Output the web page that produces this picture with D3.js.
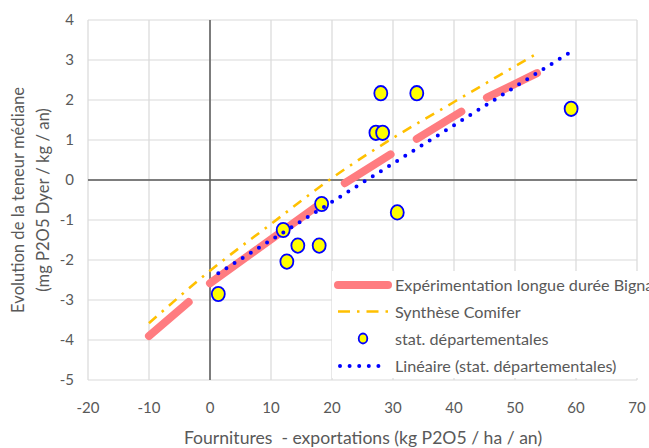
<!DOCTYPE html>
<html>
<head>
<meta charset="utf-8">
<script src="https://cdn.jsdelivr.net/npm/d3@7"></script>
<style>
  body { margin: 0; background: #fff; }
  text { font-family: Lato, "Open Sans", sans-serif; fill: #595959; white-space: pre; }
</style>
</head>
<body>
<svg id="chart" width="649" height="448"></svg>
<script>
// tick values
const xTicks = [-20, -10, 0, 10, 20, 30, 40, 50, 60, 70];
const yTicks = [-5, -4, -3, -2, -1, 0, 1, 2, 3, 4];

// Expérimentation longue durée Bignan : segments
const bignanSegments = [
  [[-10, -3.9], [-3.5, -3.05]],
  [[0, -2.58], [18.6, -0.54]],
  [[22.1, -0.08], [29.6, 0.64]],
  [[33.9, 1.03], [41.2, 1.71]],
  [[45.4, 2.06], [53.6, 2.67]]
];

// Synthèse Comifer
const comiferX = [-10, 0, 10, 20, 30, 40, 54];
const comiferY = [-3.58, -2.27, -1.1, 0.05, 1.05, 1.95, 3.2];

// stat. départementales
const statX = [1.36, 12.0, 12.6, 14.4, 17.9, 18.3, 28.0, 33.9, 27.2, 28.3, 30.7, 59.2];
const statY = [-2.85, -1.25, -2.04, -1.64, -1.64, -0.6, 2.17, 2.17, 1.18, 1.18, -0.81, 1.78];

const legendLabels = [
  "Expérimentation longue durée Bignan",
  "Synthèse Comifer",
  "stat. départementales",
  "Linéaire (stat. départementales)"
];

const RED = "#ff7c80", ORANGE = "#ffc000", BLUE = "#0000ff", YELLOW = "#ffff00";

const svg = d3.select("#chart");
const x = d3.scaleLinear().domain([-20, 70]).range([88, 637]);
const y = d3.scaleLinear().domain([-5, 4]).range([380, 20]);

// grid
const grid = svg.append("g");
grid.selectAll(".vg").data(xTicks).join("line")
  .attr("x1", d => x(d)).attr("x2", d => x(d))
  .attr("y1", y(4)).attr("y2", y(-5))
  .attr("stroke", "#d9d9d9").attr("stroke-width", 1.2);
grid.selectAll(".hg").data(yTicks).join("line")
  .attr("x1", x(-20)).attr("x2", x(70))
  .attr("y1", d => y(d)).attr("y2", d => y(d))
  .attr("stroke", "#d9d9d9").attr("stroke-width", 1.2);

// zero axes
svg.append("line").attr("x1", x(0)).attr("x2", x(0)).attr("y1", y(4)).attr("y2", y(-5))
  .attr("stroke", "#595959").attr("stroke-width", 1.5);
svg.append("line").attr("x1", x(-20)).attr("x2", x(70)).attr("y1", y(0)).attr("y2", y(0))
  .attr("stroke", "#595959").attr("stroke-width", 1.5);

// tick labels
svg.append("g").selectAll("text").data(xTicks).join("text")
  .attr("x", d => x(d)).attr("y", 413)
  .attr("text-anchor", "middle").attr("font-size", 15)
  .text(d => d);
svg.append("g").selectAll("text").data(yTicks).join("text")
  .attr("x", 74).attr("y", d => y(d) + 5)
  .attr("text-anchor", "end").attr("font-size", 15)
  .text(d => d);

// axis titles
svg.append("text").attr("x", 363).attr("y", 444)
  .attr("text-anchor", "middle").attr("font-size", 17.6)
  .text("Fournitures  - exportations (kg P2O5 / ha / an)");
const yt = svg.append("text").attr("transform", `translate(0,${y(-0.5)}) rotate(-90)`)
  .attr("text-anchor", "middle").attr("font-size", 16.6);
yt.append("tspan").attr("x", 0).attr("y", 23.5).text("Evolution de la teneur médiane");
yt.append("tspan").attr("x", 0).attr("y", 48.5).text("(mg P2O5 Dyer / kg / an)");

const line = d3.line().x(d => x(d[0])).y(d => y(d[1]));

// Bignan
svg.append("g").selectAll("path").data(bignanSegments).join("path")
  .attr("d", line).attr("fill", "none")
  .attr("stroke", RED).attr("stroke-width", 8).attr("stroke-linecap", "round");

// Comifer
svg.append("path")
  .attr("d", d3.line().curve(d3.curveMonotoneX).x(d => x(d[0])).y(d => y(d[1]))(d3.zip(comiferX, comiferY)))
  .attr("fill", "none").attr("stroke", ORANGE).attr("stroke-width", 2.6)
  .attr("stroke-dasharray", "10 7 2.5 7");

// stat. départementales
const pts = d3.zip(statX, statY);
svg.append("g").selectAll("ellipse").data(pts).join("ellipse")
  .attr("cx", d => x(d[0])).attr("cy", d => y(d[1]))
  .attr("rx", 6.5).attr("ry", 7.2)
  .attr("fill", YELLOW).attr("stroke", BLUE).attr("stroke-width", 1.8);

// linear trend of the stat points (least squares)
const mx = d3.mean(statX), my = d3.mean(statY);
const slope = d3.sum(pts, d => (d[0] - mx) * (d[1] - my)) / d3.sum(statX, v => (v - mx) ** 2);
const icpt = my - slope * mx;
const xr = d3.extent(statX);
svg.append("path")
  .attr("d", line(xr.map(v => [v, icpt + slope * v])))
  .attr("fill", "none").attr("stroke", BLUE).attr("stroke-width", 4)
  .attr("stroke-linecap", "round").attr("stroke-dasharray", "0 9.6");

// legend
const lg = svg.append("g");
lg.append("rect").attr("x", 332).attr("y", 271).attr("width", 317).attr("height", 107).attr("fill", "#fff");
const ly = [285, 311.5, 338.5, 366];
const lx0 = 338, lx1 = 388;
lg.append("line").attr("x1", lx0).attr("x2", lx1).attr("y1", ly[0]).attr("y2", ly[0])
  .attr("stroke", RED).attr("stroke-width", 8).attr("stroke-linecap", "round");
lg.append("line").attr("x1", lx0).attr("x2", lx1).attr("y1", ly[1]).attr("y2", ly[1])
  .attr("stroke", ORANGE).attr("stroke-width", 2.6).attr("stroke-dasharray", "12 7 2.5 7");
lg.append("ellipse").attr("cx", (lx0 + lx1) / 2).attr("cy", ly[2]).attr("rx", 4.3).attr("ry", 5)
  .attr("fill", YELLOW).attr("stroke", BLUE).attr("stroke-width", 1.8);
lg.append("line").attr("x1", lx0 + 2).attr("x2", lx1).attr("y1", ly[3]).attr("y2", ly[3])
  .attr("stroke", BLUE).attr("stroke-width", 4).attr("stroke-linecap", "round").attr("stroke-dasharray", "0 9.6");
lg.selectAll("text").data(legendLabels).join("text")
  .attr("x", 395).attr("y", (d, i) => ly[i] + 6)
  .attr("font-size", 16.2)
  .text(d => d);
</script>
</body>
</html>
